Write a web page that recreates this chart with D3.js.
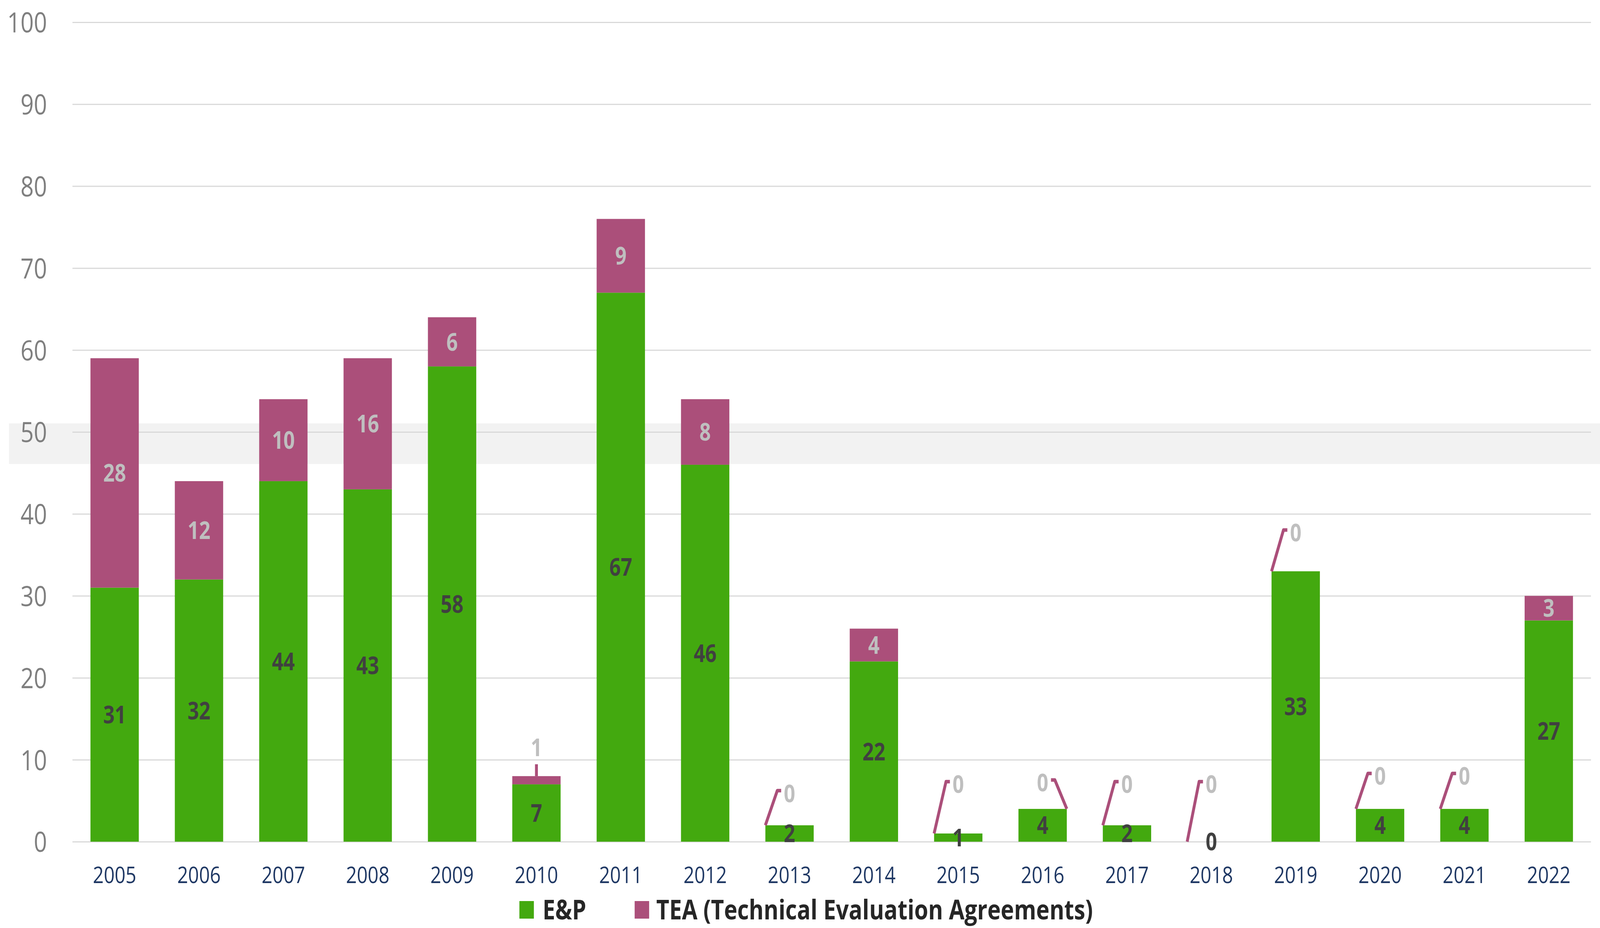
<!DOCTYPE html>
<html>
<head>
<meta charset="utf-8">
<script src="https://cdn.jsdelivr.net/npm/d3@7"></script>
<style>
  html, body { margin: 0; padding: 0; background: #fff; overflow: hidden; }
  svg { display: block; width: 100vw; height: 100vh; }
  text { font-family: "Open Sans", "Noto Sans", sans-serif; }
</style>
</head>
<body>
<svg id="chart" viewBox="0 0 4969 2376" preserveAspectRatio="none"></svg>
<script>
var years = ["2005","2006","2007","2008","2009","2010","2011","2012","2013","2014","2015","2016","2017","2018","2019","2020","2021","2022"];
var ep  = [31, 32, 44, 43, 58, 7, 67, 46, 2, 22, 1, 4, 2, 0, 33, 4, 4, 27];
var tea = [28, 12, 10, 16, 6, 1, 9, 8, 0, 4, 0, 0, 0, 0, 0, 0, 0, 3];
var seriesNames = ["E&P", "TEA (Technical Evaluation Agreements)"];
var yTicks = [0, 10, 20, 30, 40, 50, 60, 70, 80, 90, 100];

// small TEA values get an outside label with a leader line (level in axis units)
var outsideLabels = {
  "2010": {level: 11.5, side: "top"},
  "2013": {level: 5.9, side: "left"},
  "2015": {level: 7.0, side: "left"},
  "2016": {level: 7.2, side: "right"},
  "2017": {level: 7.0, side: "left"},
  "2018": {level: 7.0, side: "left"},
  "2019": {level: 37.7, side: "left"},
  "2020": {level: 8.0, side: "left"},
  "2021": {level: 8.0, side: "left"}
};

var colors = ["#43a90f", "#ab4f7a"];

var W = 4969, H = 2376;
var svg = d3.select("#chart"),
    margin = {top: 57, right: 28, bottom: 221, left: 225},
    width = W - margin.left - margin.right,
    height = H - margin.top - margin.bottom;

var x = d3.scaleBand()
    .domain(years)
    .range([0, width])
    .paddingInner(0.427)
    .paddingOuter(0.2135);

var y = d3.scaleLinear()
    .domain([0, 100])
    .range([height, 0]);

var g = svg.append("g").attr("transform", "translate(" + margin.left + "," + margin.top + ")");

// highlight band behind the 50 row
g.append("rect")
    .attr("x", 28 - margin.left)
    .attr("y", y(51.05))
    .attr("width", W - 28)
    .attr("height", y(46.1) - y(51.05))
    .attr("fill", "#f2f2f2");

// grid + y labels
var yAxis = g.append("g")
    .call(d3.axisLeft(y).tickValues(yTicks).tickSize(-width).tickPadding(79));
yAxis.select(".domain").remove();
yAxis.selectAll(".tick line").attr("stroke", "#d9d9d9").attr("stroke-width", 3);
yAxis.selectAll(".tick text")
    .attr("x", -79)
    .attr("fill", "#7f7f7f")
    .style("font-size", "72px")
    .attr("dy", "0.36em");

var rows = years.map(function(d, i) { return {year: d, ep: ep[i], tea: tea[i]}; });
var stack = d3.stack().keys(["ep", "tea"])(rows);

var layers = g.selectAll(".layer")
  .data(stack)
  .enter().append("g")
    .attr("fill", function(d, i) { return colors[i]; });

layers.selectAll("rect")
  .data(function(d) { return d; })
  .enter().append("rect")
    .attr("x", function(d) { return x(d.data.year); })
    .attr("y", function(d) { return y(d[1]); })
    .attr("width", x.bandwidth())
    .attr("height", function(d) { return y(d[0]) - y(d[1]); });

// E&P labels
g.append("g").selectAll("text")
  .data(stack[0])
  .enter().append("text")
    .attr("x", function(d) { return x(d.data.year) + x.bandwidth() / 2; })
    .attr("y", function(d) { return y((d[0] + d[1]) / 2); })
    .attr("dy", "0.36em")
    .attr("text-anchor", "middle")
    .attr("fill", "#404040")
    .style("font-size", "62px")
    .style("font-weight", "bold")
    .text(function(d) { return d.data.ep; });

// TEA labels inside the segment
g.append("g").selectAll("text")
  .data(stack[1].filter(function(d) { return !outsideLabels[d.data.year]; }))
  .enter().append("text")
    .attr("x", function(d) { return x(d.data.year) + x.bandwidth() / 2; })
    .attr("y", function(d) { return y((d[0] + d[1]) / 2); })
    .attr("dy", "0.36em")
    .attr("text-anchor", "middle")
    .attr("fill", "#bfbfbf")
    .style("font-size", "62px")
    .style("font-weight", "bold")
    .text(function(d) { return d.data.tea; });

// TEA labels outside with leader lines
var outside = stack[1].filter(function(d) { return outsideLabels[d.data.year]; });
var leader = g.append("g");
outside.forEach(function(d) {
  var o = outsideLabels[d.data.year],
      x0 = x(d.data.year),
      cx = x0 + x.bandwidth() / 2,
      ly = y(o.level),
      pts;
  if (o.side === "top") {
    pts = [[cx, y(d[1])], [cx, ly + 43]];
  } else if (o.side === "right") {
    var x1 = x0 + x.bandwidth();
    pts = [[x1, y(d[1])], [cx + 38, ly - 7], [cx + 26, ly - 7]];
  } else {
    pts = [[x0, y(d[1])], [cx - 38, ly - 7], [cx - 26, ly - 7]];
  }
  leader.append("path")
      .attr("d", d3.line()(pts))
      .attr("fill", "none")
      .attr("stroke", colors[1])
      .attr("stroke-width", 9)
      .attr("stroke-linejoin", "round");
  leader.append("text")
      .attr("x", cx)
      .attr("y", ly)
      .attr("dy", "0.36em")
      .attr("text-anchor", "middle")
      .attr("fill", "#bfbfbf")
      .style("font-size", "62px")
      .style("font-weight", "bold")
      .text(d.data.tea);
});

// x axis labels
var xAxis = g.append("g")
    .attr("transform", "translate(0," + height + ")")
    .call(d3.axisBottom(x).tickSize(0));
xAxis.select(".domain").remove();
xAxis.selectAll(".tick text")
    .attr("y", 85)
    .attr("dy", "0.36em")
    .attr("fill", "#1f3864")
    .style("font-size", "59px");

// legend
var legendX = [1613, 1971];
var legend = svg.append("g").selectAll("g")
  .data(seriesNames)
  .enter().append("g")
    .attr("transform", function(d, i) { return "translate(" + legendX[i] + ",2329)"; });
legend.append("rect")
    .attr("x", 0)
    .attr("y", -22)
    .attr("width", 45)
    .attr("height", 45)
    .attr("fill", function(d, i) { return colors[i]; });
legend.append("text")
    .attr("x", function(d, i) { return i === 0 ? 72 : 67; })
    .attr("dy", "0.36em")
    .attr("fill", "#262626")
    .style("font-size", "70px")
    .style("font-weight", "bold")
    .text(function(d) { return d; });
</script>
</body>
</html>
